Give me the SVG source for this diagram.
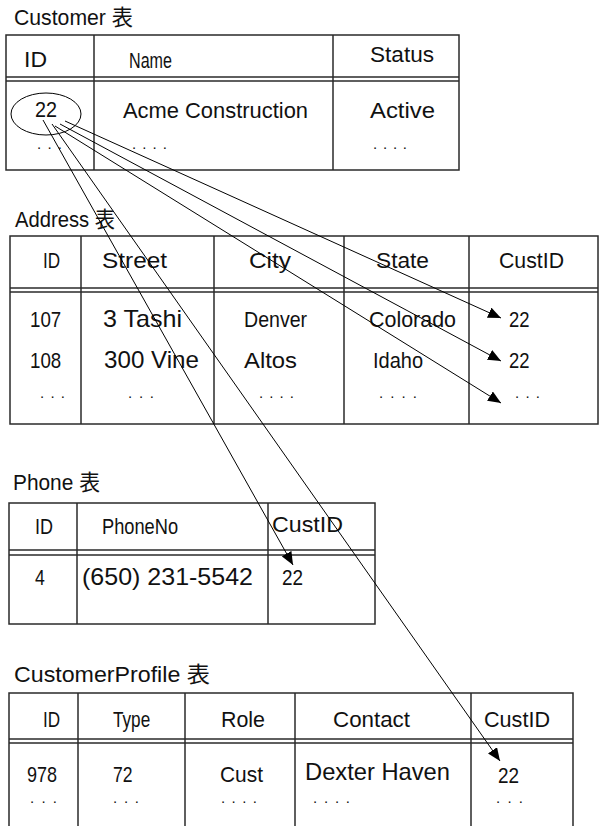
<svg xmlns="http://www.w3.org/2000/svg" width="599" height="826" viewBox="0 0 599 826">
<style>
.bg{fill:#fff}
.tb{fill:none;stroke:#2a2a2a;stroke-width:1.5}
.ln{stroke:#2a2a2a;stroke-width:1.5}
.t{font-family:"Liberation Sans","Noto Sans CJK JP",sans-serif;font-size:22px;fill:#111}
.b{font-size:24px}
.d{font-family:"Liberation Sans",sans-serif;font-size:15px;fill:#111}
.c{fill:none;stroke:#000;stroke-width:1}
</style>
<defs>
<marker id="ah" markerWidth="13" markerHeight="11" refX="13" refY="5.5" orient="auto" markerUnits="userSpaceOnUse">
<path d="M0,0 L13,5.5 L0,11 z" fill="#000"/>
</marker>
</defs>
<rect class="bg" x="0" y="0" width="599" height="826"/>

<g id="customer">
<text class="t" x="14" y="25" textLength="119" lengthAdjust="spacingAndGlyphs">Customer 表</text>
<rect class="tb" x="6" y="35" width="453" height="135"/>
<line class="ln" x1="94" y1="35" x2="94" y2="170"/>
<line class="ln" x1="333" y1="35" x2="333" y2="170"/>
<line class="ln" x1="6" y1="77" x2="459" y2="77"/>
<line class="ln" x1="6" y1="81" x2="459" y2="81"/>
<text class="t" x="24" y="67" textLength="23" lengthAdjust="spacingAndGlyphs">ID</text>
<text class="t" transform="translate(129,68) scale(0.733,1)">Name</text>
<text class="t" x="370" y="62" textLength="64" lengthAdjust="spacingAndGlyphs">Status</text>
<text class="t" transform="translate(35,117) scale(0.9,1)">22</text>
<text class="t" x="123" y="118" textLength="185" lengthAdjust="spacingAndGlyphs">Acme Construction</text>
<text class="t" x="370" y="118" textLength="65" lengthAdjust="spacingAndGlyphs">Active</text>
<text class="d" x="37" y="149" textLength="25">...</text>
<text class="d" x="132" y="149" textLength="35">....</text>
<text class="d" x="373" y="149" textLength="34">....</text>
<ellipse class="c" cx="46" cy="114" rx="35" ry="21"/>
</g>

<g id="address">
<text class="t" x="15" y="227" textLength="100" lengthAdjust="spacingAndGlyphs">Address 表</text>
<rect class="tb" x="10" y="236" width="588" height="188"/>
<line class="ln" x1="81" y1="236" x2="81" y2="424"/>
<line class="ln" x1="214" y1="236" x2="214" y2="424"/>
<line class="ln" x1="344" y1="236" x2="344" y2="424"/>
<line class="ln" x1="469" y1="236" x2="469" y2="424"/>
<line class="ln" x1="10" y1="288" x2="598" y2="288"/>
<line class="ln" x1="10" y1="292" x2="598" y2="292"/>
<text class="t" transform="translate(43,268) scale(0.78,1)">ID</text>
<text class="t" x="102" y="268" textLength="65" lengthAdjust="spacingAndGlyphs">Street</text>
<text class="t" x="249" y="268" textLength="42" lengthAdjust="spacingAndGlyphs">City</text>
<text class="t" x="376" y="268" textLength="53" lengthAdjust="spacingAndGlyphs">State</text>
<text class="t" x="499" y="268" textLength="65" lengthAdjust="spacingAndGlyphs">CustID</text>
<text class="t" transform="translate(30,327) scale(0.85,1)">107</text>
<text class="t b" x="103" y="327" textLength="79" lengthAdjust="spacingAndGlyphs">3 Tashi</text>
<text class="t" transform="translate(244,327) scale(0.89,1)">Denver</text>
<text class="t" x="369" y="327" textLength="87" lengthAdjust="spacingAndGlyphs">Colorado</text>
<text class="t" transform="translate(509,327) scale(0.84,1)">22</text>
<text class="t" transform="translate(30,368) scale(0.85,1)">108</text>
<text class="t b" x="104" y="368" textLength="95" lengthAdjust="spacingAndGlyphs">300 Vine</text>
<text class="t" x="244" y="368" textLength="53" lengthAdjust="spacingAndGlyphs">Altos</text>
<text class="t" transform="translate(373,368) scale(0.91,1)">Idaho</text>
<text class="t" transform="translate(509,368) scale(0.84,1)">22</text>
<text class="d" x="40" y="398" textLength="25">...</text>
<text class="d" x="128" y="398" textLength="26">...</text>
<text class="d" x="259" y="398" textLength="35">....</text>
<text class="d" x="379" y="398" textLength="38">....</text>
<text class="d" x="515" y="398" textLength="25">...</text>
</g>

<g id="phone">
<text class="t" x="13" y="490" textLength="87" lengthAdjust="spacingAndGlyphs">Phone 表</text>
<rect class="tb" x="9" y="503" width="366" height="121"/>
<line class="ln" x1="77" y1="503" x2="77" y2="624"/>
<line class="ln" x1="268" y1="503" x2="268" y2="624"/>
<line class="ln" x1="9" y1="550" x2="375" y2="550"/>
<line class="ln" x1="9" y1="555" x2="375" y2="555"/>
<text class="t" transform="translate(35,534) scale(0.82,1)">ID</text>
<text class="t" transform="translate(102,534) scale(0.83,1)">PhoneNo</text>
<text class="t" x="272" y="532" textLength="71" lengthAdjust="spacingAndGlyphs">CustID</text>
<text class="t" transform="translate(35,585) scale(0.8,1)">4</text>
<text class="t b" x="82" y="585" textLength="171" lengthAdjust="spacingAndGlyphs">(650) 231-5542</text>
<text class="t" transform="translate(282,585) scale(0.86,1)">22</text>
</g>

<g id="customerprofile">
<text class="t" x="14" y="682" textLength="196" lengthAdjust="spacingAndGlyphs">CustomerProfile 表</text>
<path class="tb" d="M9,826 V693 H573 V826"/>
<line class="ln" x1="78" y1="693" x2="78" y2="826"/>
<line class="ln" x1="185" y1="693" x2="185" y2="826"/>
<line class="ln" x1="295" y1="693" x2="295" y2="826"/>
<line class="ln" x1="471" y1="693" x2="471" y2="826"/>
<line class="ln" x1="9" y1="739" x2="573" y2="739"/>
<line class="ln" x1="9" y1="743" x2="573" y2="743"/>
<text class="t" transform="translate(43,727) scale(0.78,1)">ID</text>
<text class="t" transform="translate(113,727) scale(0.78,1)">Type</text>
<text class="t" x="221" y="727" textLength="44" lengthAdjust="spacingAndGlyphs">Role</text>
<text class="t" x="333" y="727" textLength="77" lengthAdjust="spacingAndGlyphs">Contact</text>
<text class="t" x="484" y="727" textLength="66" lengthAdjust="spacingAndGlyphs">CustID</text>
<text class="t" transform="translate(27,782) scale(0.82,1)">978</text>
<text class="t" transform="translate(113,782) scale(0.8,1)">72</text>
<text class="t" x="220" y="782" textLength="43" lengthAdjust="spacingAndGlyphs">Cust</text>
<text class="t b" x="305" y="780" textLength="145" lengthAdjust="spacingAndGlyphs">Dexter Haven</text>
<text class="t" transform="translate(498,783) scale(0.86,1)">22</text>
<text class="d" x="30" y="803" textLength="27">...</text>
<text class="d" x="113" y="803" textLength="26">...</text>
<text class="d" x="221" y="803" textLength="36">....</text>
<text class="d" x="313" y="803" textLength="37">....</text>
<text class="d" x="496" y="803" textLength="27">...</text>
</g>

<g id="connectors">
<line class="c" x1="65" y1="121" x2="501" y2="318" marker-end="url(#ah)"/>
<line class="c" x1="60" y1="124" x2="501" y2="361" marker-end="url(#ah)"/>
<line class="c" x1="55" y1="126" x2="501" y2="403" marker-end="url(#ah)"/>
<line class="c" x1="43" y1="120" x2="293" y2="565" marker-end="url(#ah)"/>
<line class="c" x1="52" y1="124" x2="500" y2="761" marker-end="url(#ah)"/>
</g>
</svg>
